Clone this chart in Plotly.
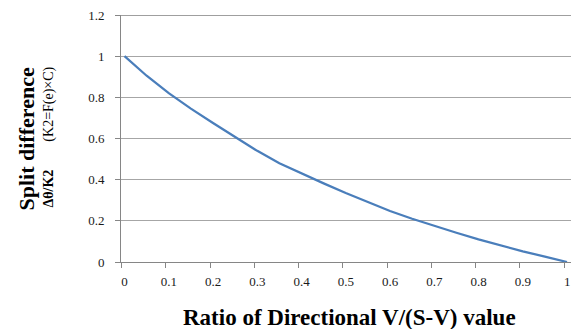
import plotly.graph_objects as go

# Data
x_vals = [0.0, 0.05, 0.1, 0.15, 0.2, 0.25, 0.3, 0.35, 0.4, 0.45, 0.5,
          0.55, 0.6, 0.65, 0.7, 0.75, 0.8, 0.85, 0.9, 0.95, 1.0]
y_vals = [1.0, 0.905, 0.82, 0.745, 0.675, 0.607, 0.54, 0.48, 0.43, 0.382, 0.335,
          0.29, 0.248, 0.21, 0.175, 0.142, 0.11, 0.08, 0.052, 0.026, 0.0]

x_tick_labels = ["0", "0.1", "0.2", "0.3", "0.4", "0.5", "0.6", "0.7", "0.8", "0.9", "1"]
x_tick_pos = [i / 10 for i in range(11)]
y_tick_vals = [0, 0.2, 0.4, 0.6, 0.8, 1.0, 1.2]
y_tick_labels = ["0", "0.2", "0.4", "0.6", "0.8", "1", "1.2"]

x_title = "Ratio of Directional V/(S-V) value"
y_title_1 = "Split difference"
y_title_2 = "Δθ/K2"
y_title_3 = "(K2=F(e)×C)"

SERIF = "Liberation Serif, Times New Roman, serif"
L, R, T, B = 121, 1, 15, 67
W, H = 572, 329

fig = go.Figure()
fig.add_trace(go.Scatter(
    x=x_vals, y=y_vals, mode="lines",
    line=dict(color="#4a7ebb", width=2.25),
    hoverinfo="skip", showlegend=False,
))

tick_offset = -0.0065
fig.update_layout(
    width=W, height=H,
    margin=dict(l=L, r=R, t=T, b=B, pad=0),
    paper_bgcolor="white", plot_bgcolor="white",
    xaxis=dict(
        range=[-0.0079, 1.009],
        tickmode="array",
        tickvals=[p + tick_offset for p in x_tick_pos],
        ticktext=x_tick_labels,
        ticklabelshift=3,
        ticks="outside", ticklen=5, tickcolor="#868686", tickwidth=1,
        showgrid=False, zeroline=False,
        showline=True, linecolor="#868686", linewidth=1,
        tickfont=dict(family=SERIF, size=13, color="#1a1a1a"),
        ticklabelstandoff=2,
        fixedrange=True,
    ),
    yaxis=dict(
        range=[0, 1.2],
        tickmode="array",
        tickvals=y_tick_vals,
        ticktext=y_tick_labels,
        ticks="outside", ticklen=5, tickcolor="#868686", tickwidth=1,
        showgrid=True, gridcolor="#a6a6a6", gridwidth=1,
        zeroline=False,
        showline=True, linecolor="#868686", linewidth=1,
        tickfont=dict(family=SERIF, size=13, color="#1a1a1a"),
        ticklabelstandoff=8,
        fixedrange=True,
    ),
    shapes=[dict(type="line", xref="paper", yref="y", x0=0, x1=1, y0=1.2, y1=1.2,
                 line=dict(color="#404040", width=1))],
    annotations=[
        dict(text="<b>" + x_title + "</b>", xref="paper", yref="paper",
             x=(349 - L) / (W - L - R), y=0, yshift=-(317 - (H - B)),
             xanchor="center", yanchor="middle", showarrow=False,
             font=dict(family=SERIF, size=23, color="black")),
        dict(text="<b>" + y_title_1 + "</b>", xref="paper", yref="paper",
             x=0, xshift=26 - L, y=0.5, yshift=-1, xanchor="center", yanchor="middle",
             textangle=-90, showarrow=False,
             font=dict(family=SERIF, size=22, color="black")),
        dict(text="<b>" + y_title_2 + "</b>\u2003\u2003" + y_title_3, xref="paper", yref="paper",
             x=0, xshift=48 - L, y=0.5, yshift=1, xanchor="center", yanchor="middle",
             textangle=-90, showarrow=False,
             font=dict(family=SERIF, size=14, color="black")),
    ],
)

fig.write_html(
    "out.html",
    config={"displayModeBar": False},
    post_script="document.body.style.margin='0';document.body.style.padding='0';",
)
